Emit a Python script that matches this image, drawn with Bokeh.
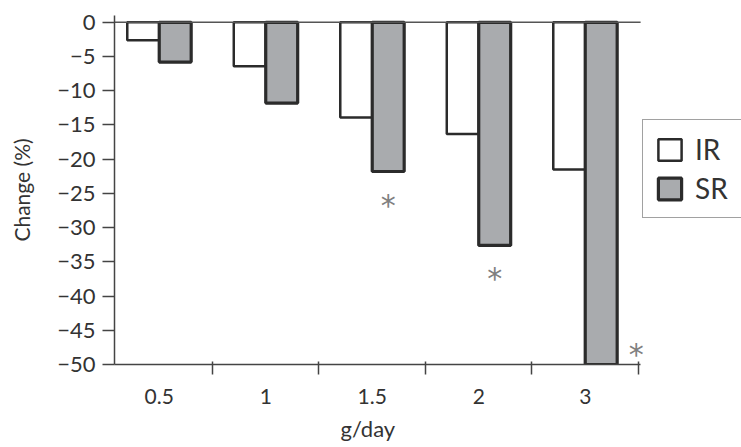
from bokeh.plotting import figure
from bokeh.models import Range1d, FixedTicker, Legend, LegendItem, ColumnDataSource, Title
from bokeh.embed import file_html
from bokeh.resources import INLINE
from bokeh.core.properties import value

# ---- data ----
doses = ["0.5", "1", "1.5", "2", "3"]
ir_change = [-2.6, -6.4, -13.9, -16.3, -21.5]
sr_change = [-5.8, -11.8, -21.8, -32.6, -50.0]
sig_doses = ["1.5", "2", "3"]
sig_y = [-25.6, -36.2, -47.4]
y_ticks = [0, -5, -10, -15, -20, -25, -30, -35, -40, -45, -50]

BAR_W = 0.3
X0, X_AX_END = 0.08, 5.02          # axis extent (category units)
centers = [i + 0.5 for i in range(len(doses))]
ir_x = [c - BAR_W / 2 for c in centers]
sr_x = [c + BAR_W / 2 for c in centers]
sig_x = [sr_x[doses.index(d)] for d in sig_doses]
sig_x[-1] = sig_x[-1] + 0.33  # last asterisk sits right of its bar

FONT = "Lato"
TXT = "#333333"
EDGE = "#2b2b2b"
AX = "#444444"

p = figure(width=741, height=447, output_backend="svg", toolbar_location=None,
           x_range=Range1d(X0, X0 + 627 / 106.5), y_range=Range1d(-50, 1.0),
           min_border_left=114, min_border_right=0, min_border_top=15, min_border_bottom=81)
p.outline_line_color = None
p.grid.visible = False
p.background_fill_color = "white"
p.border_fill_color = "white"

src_ir = ColumnDataSource(dict(x=ir_x, top=[0] * len(doses), bottom=ir_change))
src_sr = ColumnDataSource(dict(x=sr_x, top=[0] * len(doses), bottom=sr_change))

r_ir = p.vbar(x="x", top="top", bottom="bottom", width=BAR_W, source=src_ir,
              fill_color="white", line_color=EDGE, line_width=2.5)
r_sr = p.vbar(x="x", top="top", bottom="bottom", width=BAR_W, source=src_sr,
              fill_color="#a9abae", line_color=EDGE, line_width=3.2)

# zero reference line, same extent as the x axis
p.segment(x0=[X0], x1=[X_AX_END], y0=[0], y1=[0], line_color="#555555", line_width=1.5)

p.text(x=sig_x, y=sig_y, text=["*"] * len(sig_x), text_font=value("DejaVu Sans"),
       text_font_size="30px", text_color="#808080", text_align="center",
       text_baseline="middle", y_offset=8)

# axes
xa = p.xaxis[0]
xa.bounds = (X0, X_AX_END)
xa.ticker = FixedTicker(ticks=centers, minor_ticks=[1, 2, 3, 4, 5])
xa.major_label_overrides = {c: d for c, d in zip(centers, doses)}
xa.major_tick_line_color = None
xa.minor_tick_in = 3
xa.minor_tick_out = 10
xa.minor_tick_line_color = AX
xa.minor_tick_line_width = 1.5
xa.axis_line_color = AX
xa.axis_line_width = 1.5
xa.major_label_text_font = FONT
xa.major_label_text_font_size = "21px"
xa.major_label_text_color = TXT
xa.major_label_standoff = 14

# x-axis title, centred under the axis extent (not the full frame)
p.add_layout(Title(text="g/day", align="left", offset=226, text_font=FONT,
                   text_font_size="22px", text_font_style="normal", text_color=TXT,
                   standoff=12), "below")

ya = p.yaxis[0]
ya.ticker = FixedTicker(ticks=y_ticks)
ya.major_label_overrides = {t: ("0" if t == 0 else "\u2212" + str(-t)) for t in y_ticks}
ya.minor_tick_line_color = None
ya.major_tick_in = 0
ya.major_tick_out = 12
ya.major_tick_line_color = AX
ya.major_tick_line_width = 1.5
ya.axis_line_color = AX
ya.axis_line_width = 1.5
ya.major_label_text_font = FONT
ya.major_label_text_font_size = "22px"
ya.major_label_text_color = TXT
ya.major_label_standoff = 7
ya.axis_label = "Change (%)"
ya.axis_label_text_font = FONT
ya.axis_label_text_font_size = "21px"
ya.axis_label_text_font_style = "normal"
ya.axis_label_text_color = TXT
ya.axis_label_standoff = 20

legend = Legend(items=[LegendItem(label="IR", renderers=[r_ir]),
                       LegendItem(label="SR", renderers=[r_sr])],
                location=(528, 146), orientation="vertical",
                glyph_width=29, glyph_height=27, label_standoff=11, spacing=5,
                padding=12, margin=0,
                label_text_font=FONT, label_text_font_size="28px", label_text_color=TXT,
                border_line_color=AX, border_line_width=1.5,
                background_fill_color="white", background_fill_alpha=1.0)
legend.label_width = 80
p.add_layout(legend, "center")

open("out.html", "w").write(file_html(p, INLINE))
